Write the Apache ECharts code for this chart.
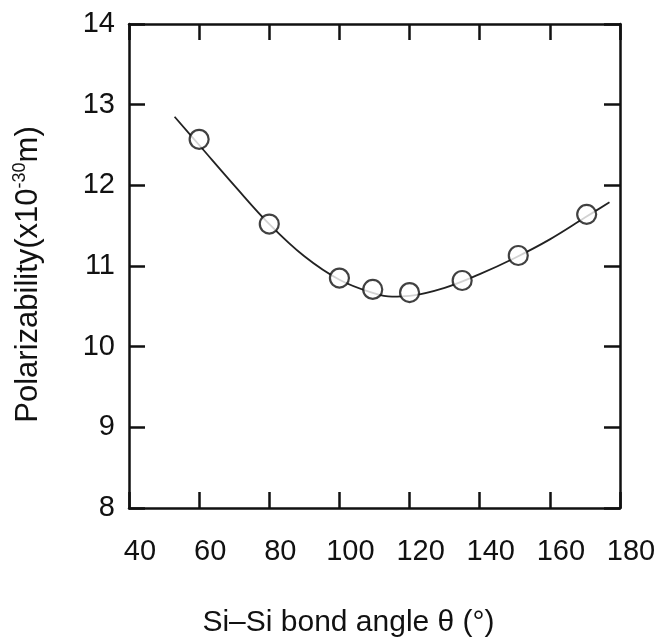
<!DOCTYPE html>
<html>
<head>
<meta charset="utf-8">
<script src="https://cdn.jsdelivr.net/npm/echarts@6/dist/echarts.min.js"></script>
<style>
  html, body { margin: 0; padding: 0; background: #fff; }
  #chart { width: 655px; height: 638px; }
</style>
</head>
<body>
<div id="chart"></div>
<script>
  // measured points (open circles)
  var angles = [60, 80, 100, 109.5, 120, 135, 151, 170.5];
  var polar = [12.57, 11.52, 10.85, 10.71, 10.67, 10.82, 11.13, 11.64];

  // fitted curve
  var curveX = [53, 60, 70, 80, 90, 100, 110, 115, 120, 130, 140, 150, 160, 170, 177];
  var curveY = [12.85, 12.5, 12.0, 11.52, 11.12, 10.83, 10.66, 10.62, 10.63, 10.73, 10.9, 11.1, 11.33, 11.6, 11.79];

  var xTicks = [40, 60, 80, 100, 120, 140, 160, 180];
  var yTicks = [8, 9, 10, 11, 12, 13, 14];

  var font = 'Liberation Sans, Arial, sans-serif';
  var ink = '#111';

  function boxAxis(pos, show) {
    return {
      position: pos,
      axisLine: { show: true, onZero: false, lineStyle: { color: ink, width: 2.5 } },
      axisTick: { show: true, inside: true, length: 16, lineStyle: { color: ink, width: 2.5 } },
      axisLabel: { show: show },
      splitLine: { show: false }
    };
  }

  var xBottom = Object.assign(boxAxis('bottom', true), {
    type: 'value', min: xTicks[0], max: xTicks[xTicks.length - 1], interval: 20,
    name: 'Si\u2013Si bond angle \u03b8 (\u00b0)',
    nameLocation: 'middle', nameGap: 100,
    nameTextStyle: { fontFamily: font, fontSize: 30, color: ink, padding: [0, 52, 0, 0] }
  });
  xBottom.axisLabel = { show: true, fontFamily: font, fontSize: 29, color: ink, margin: 29, padding: [0, 0, 0, 22] };

  var xTop = Object.assign(boxAxis('top', false), {
    type: 'value', min: xTicks[0], max: xTicks[xTicks.length - 1], interval: 20
  });

  var yLeft = Object.assign(boxAxis('left', true), {
    type: 'value', min: yTicks[0], max: yTicks[yTicks.length - 1], interval: 1,
    name: '{a|Polarizability(x10}{s|-30}{a|m)}',
    nameLocation: 'middle', nameGap: 84, nameRotate: 90,
    nameTextStyle: {
      padding: [0, 17, 0, 0],
      rich: {
        a: { fontFamily: font, fontSize: 31, color: ink, lineHeight: 34 },
        s: { fontFamily: font, fontSize: 18, color: ink, verticalAlign: 'top', lineHeight: 34 }
      }
    }
  });
  yLeft.axisLabel = { show: true, fontFamily: font, fontSize: 29, color: ink, margin: 14 };

  var yRight = Object.assign(boxAxis('right', false), {
    type: 'value', min: yTicks[0], max: yTicks[yTicks.length - 1], interval: 1
  });

  var chart = echarts.init(document.getElementById('chart'));
  chart.setOption({
    backgroundColor: '#fff',
    animation: false,
    grid: { left: 129, right: 35, top: 24, bottom: 130, containLabel: false, outerBoundsMode: 'none' },
    xAxis: [xBottom, xTop],
    yAxis: [yLeft, yRight],
    series: [{
      type: 'line',
      smooth: 0.4,
      showSymbol: false,
      data: curveX.map(function (x, i) { return [x, curveY[i]]; }),
      lineStyle: { color: '#222', width: 1.8 },
      z: 2
    }, {
      type: 'scatter',
      symbol: 'circle',
      symbolSize: 19,
      data: angles.map(function (x, i) { return [x, polar[i]]; }),
      itemStyle: { color: '#fff', borderColor: ink, borderWidth: 2.2 },
      z: 3
    }]
  });
</script>
</body>
</html>
